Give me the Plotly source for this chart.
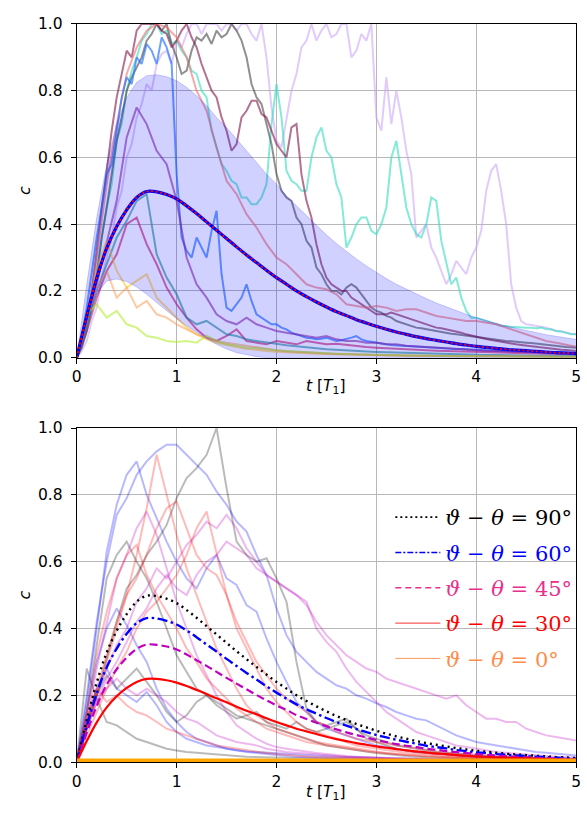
import plotly.graph_objects as go

T = [round(0.1 * i, 1) for i in range(51)]
T_FINE = [round(0.05 * i, 2) for i in range(101)]

# ---------------- top panel data ----------------
MEAN = [0.000, 0.125, 0.238, 0.328, 0.393, 0.443, 0.480, 0.498, 0.497, 0.489, 0.476,
        0.455, 0.432, 0.407, 0.382, 0.357, 0.332, 0.308, 0.285, 0.262, 0.240,
        0.220, 0.200, 0.183, 0.167, 0.152, 0.138, 0.126, 0.114, 0.104, 0.094,
        0.085, 0.077, 0.070, 0.063, 0.057, 0.052, 0.047, 0.042, 0.038, 0.034,
        0.031, 0.028, 0.025, 0.023, 0.021, 0.019, 0.017, 0.015, 0.014, 0.012]

BAND_HI = [0.000, 0.220, 0.420, 0.580, 0.700, 0.780, 0.825, 0.845, 0.848, 0.842, 0.830,
           0.810, 0.785, 0.755, 0.720, 0.690, 0.655, 0.620, 0.585, 0.550, 0.520,
           0.485, 0.455, 0.425, 0.395, 0.368, 0.342, 0.318, 0.296, 0.275, 0.255,
           0.237, 0.220, 0.205, 0.190, 0.177, 0.164, 0.152, 0.140, 0.130, 0.120,
           0.111, 0.103, 0.095, 0.088, 0.081, 0.075, 0.069, 0.064, 0.059, 0.055]

BAND_LO = [0.000, 0.110, 0.190, 0.230, 0.236, 0.228, 0.212, 0.190, 0.165, 0.140, 0.117,
           0.095, 0.075, 0.057, 0.040, 0.026, 0.015, 0.008, 0.003, 0.000, 0.000,
           0.000, 0.000, 0.000, 0.000, 0.000, 0.000, 0.000, 0.000, 0.000, 0.000,
           0.000, 0.000, 0.000, 0.000, 0.000, 0.000, 0.000, 0.000, 0.000, 0.000,
           0.000, 0.000, 0.000, 0.000, 0.000, 0.000, 0.000, 0.000, 0.000, 0.000]

# fine-grid trajectories (t step 0.05)
LAV = [0.00, 0.02, 0.05, 0.11, 0.15, 0.24, 0.30, 0.36, 0.45, 0.50, 0.60, 0.64, 0.72, 0.76, 0.82, 0.80, 0.88, 0.91, 0.92, 0.88, 0.95,
       0.93, 0.97, 1.00, 1.00, 0.97, 1.00, 1.00, 1.00, 0.98, 1.00, 1.00, 0.98, 1.00, 1.00, 0.97, 0.95, 1.00, 0.90, 0.75, 0.65,
       0.63, 0.72, 0.80, 0.85, 0.93, 0.95, 1.00, 0.95, 0.98, 1.00, 0.96, 0.97, 1.00, 1.00, 0.90, 0.92, 0.97, 0.95, 1.00, 0.72,
       0.68, 0.84, 0.70, 0.80, 0.72, 0.62, 0.55, 0.36, 0.38, 0.40, 0.33, 0.30, 0.26, 0.22, 0.25, 0.29, 0.27, 0.25, 0.30, 0.33,
       0.38, 0.50, 0.56, 0.58, 0.50, 0.40, 0.22, 0.15, 0.11, 0.10, 0.098, 0.095, 0.094, 0.09, 0.085, 0.08, 0.08, 0.075, 0.072, 0.07]

TURQ = [0.00, 0.03, 0.08, 0.16, 0.25, 0.36, 0.45, 0.52, 0.65, 0.70, 0.80, 0.86, 0.90, 0.95, 0.97, 1.00, 1.00, 0.97, 0.98, 0.94, 0.95,
        0.92, 0.90, 0.86, 0.85, 0.80, 0.78, 0.68, 0.63, 0.58, 0.56, 0.53, 0.52, 0.48, 0.48, 0.46, 0.46, 0.48, 0.52, 0.70, 0.82,
        0.72, 0.56, 0.53, 0.52, 0.50, 0.50, 0.60, 0.66, 0.69, 0.62, 0.60, 0.52, 0.48, 0.33, 0.36, 0.40, 0.42, 0.42, 0.38, 0.37,
        0.40, 0.45, 0.60, 0.65, 0.55, 0.45, 0.40, 0.37, 0.36, 0.40, 0.48, 0.47, 0.35, 0.28, 0.22, 0.24, 0.18, 0.14, 0.12, 0.12,
        0.115, 0.11, 0.105, 0.10, 0.095, 0.095, 0.092, 0.092, 0.09, 0.09, 0.09, 0.088, 0.09, 0.085, 0.085, 0.08, 0.078, 0.075, 0.07, 0.07]

GRAY = [0.00, 0.03, 0.08, 0.15, 0.25, 0.36, 0.45, 0.55, 0.65, 0.72, 0.80, 0.84, 0.87, 0.90, 0.95, 0.97, 1.00, 0.98, 1.00, 0.94, 0.90,
        0.85, 0.86, 0.92, 0.96, 0.95, 0.97, 0.94, 0.98, 0.96, 0.97, 1.00, 0.98, 0.95, 0.90, 0.82, 0.78, 0.76, 0.70, 0.64, 0.55,
        0.50, 0.48, 0.47, 0.42, 0.40, 0.35, 0.33, 0.27, 0.25, 0.22, 0.20, 0.20, 0.19, 0.21, 0.22, 0.21, 0.19, 0.17, 0.15, 0.14,
        0.135, 0.125, 0.12, 0.11, 0.105, 0.10, 0.095, 0.09, 0.088, 0.085, 0.083, 0.08, 0.078, 0.075, 0.072, 0.07, 0.068, 0.065, 0.062, 0.06,
        0.058, 0.057, 0.056, 0.054, 0.052, 0.05, 0.049, 0.047, 0.046, 0.045, 0.044, 0.042, 0.04, 0.038, 0.037, 0.035, 0.034, 0.032, 0.031, 0.03]

MAROON = [0.00, 0.04, 0.10, 0.20, 0.32, 0.45, 0.56, 0.68, 0.78, 0.85, 0.92, 0.90, 0.98, 1.00, 1.00, 1.00, 1.00, 0.98, 0.97, 0.93, 0.95,
          0.98, 1.00, 0.96, 0.93, 0.88, 0.84, 0.80, 0.78, 0.72, 0.68, 0.62, 0.64, 0.72, 0.74, 0.77, 0.77, 0.73, 0.72, 0.68, 0.64,
          0.62, 0.60, 0.69, 0.70, 0.55, 0.47, 0.42, 0.34, 0.28, 0.24, 0.22, 0.21, 0.20, 0.20, 0.18, 0.17, 0.16, 0.15, 0.14, 0.13,
          0.13, 0.13, 0.135, 0.13, 0.125, 0.12, 0.115, 0.11, 0.105, 0.10, 0.095, 0.09, 0.088, 0.085, 0.082, 0.08, 0.075, 0.07, 0.066, 0.062,
          0.059, 0.056, 0.053, 0.05, 0.047, 0.045, 0.042, 0.04, 0.038, 0.036, 0.034, 0.032, 0.03, 0.029, 0.027, 0.026, 0.024, 0.023, 0.021, 0.02]

BLUE = [0.00, 0.06, 0.15, 0.26, 0.36, 0.45, 0.55, 0.58, 0.68, 0.78, 0.84, 0.82, 0.90, 0.88, 0.94, 0.92, 0.88, 0.96, 0.93, 0.88, 0.55,
        0.36, 0.32, 0.30, 0.36, 0.33, 0.30, 0.38, 0.44, 0.25, 0.15, 0.14, 0.16, 0.18, 0.22, 0.17, 0.13, 0.12, 0.11, 0.10, 0.10,
        0.09, 0.085, 0.075, 0.07, 0.065, 0.06, 0.058, 0.055, 0.057, 0.06, 0.055, 0.05, 0.052, 0.055, 0.06, 0.065, 0.055, 0.05, 0.047, 0.045,
        0.042, 0.04, 0.038, 0.036, 0.036, 0.035, 0.034, 0.032, 0.031, 0.03, 0.03, 0.03, 0.029, 0.028, 0.027, 0.026, 0.026, 0.025, 0.024, 0.023,
        0.022, 0.022, 0.021, 0.021, 0.02, 0.02, 0.02, 0.02, 0.019, 0.019, 0.018, 0.018, 0.017, 0.017, 0.016, 0.016, 0.016, 0.016, 0.015, 0.015]

# coarse-grid trajectories (t step 0.1)
SALMON = [0.00, 0.10, 0.30, 0.52, 0.70, 0.85, 0.93, 0.98, 1.00, 0.99, 0.96,
          0.90, 0.80, 0.74, 0.63, 0.53, 0.49, 0.43, 0.39, 0.34, 0.30,
          0.28, 0.25, 0.22, 0.21, 0.205, 0.19, 0.16, 0.155, 0.15, 0.155,
          0.15, 0.14, 0.145, 0.145, 0.135, 0.125, 0.12, 0.115, 0.11, 0.11,
          0.105, 0.10, 0.09, 0.08, 0.07, 0.06, 0.05, 0.045, 0.04, 0.033]

PURPLE = [0.00, 0.10, 0.22, 0.35, 0.47, 0.66, 0.75, 0.70, 0.62, 0.58, 0.47,
          0.30, 0.22, 0.18, 0.13, 0.11, 0.10, 0.12, 0.10, 0.09, 0.08,
          0.075, 0.07, 0.065, 0.06, 0.065, 0.055, 0.05, 0.05, 0.045, 0.045,
          0.04, 0.04, 0.036, 0.034, 0.031, 0.03, 0.028, 0.026, 0.024, 0.022,
          0.021, 0.02, 0.019, 0.018, 0.017, 0.016, 0.015, 0.014, 0.013, 0.012]

CRIMSON = [0.00, 0.08, 0.18, 0.26, 0.31, 0.40, 0.42, 0.34, 0.28, 0.21, 0.16,
           0.12, 0.085, 0.06, 0.05, 0.065, 0.085, 0.05, 0.045, 0.04, 0.05,
           0.045, 0.04, 0.05, 0.045, 0.04, 0.042, 0.038, 0.035, 0.032, 0.03,
           0.028, 0.026, 0.025, 0.024, 0.022, 0.021, 0.02, 0.019, 0.018, 0.017,
           0.016, 0.015, 0.014, 0.013, 0.013, 0.012, 0.012, 0.011, 0.011, 0.01]

TEAL = [0.00, 0.09, 0.20, 0.28, 0.36, 0.41, 0.47, 0.49, 0.31, 0.24, 0.19,
        0.12, 0.10, 0.11, 0.09, 0.07, 0.065, 0.055, 0.05, 0.045, 0.04,
        0.037, 0.034, 0.03, 0.028, 0.025, 0.023, 0.021, 0.02, 0.018, 0.017,
        0.016, 0.015, 0.014, 0.013, 0.012, 0.011, 0.010, 0.010, 0.009, 0.009,
        0.008, 0.008, 0.007, 0.007, 0.006, 0.006, 0.006, 0.005, 0.005, 0.005]

GOLD = [0.00, 0.12, 0.27, 0.35, 0.26, 0.21, 0.23, 0.25, 0.18, 0.15, 0.12,
        0.09, 0.07, 0.055, 0.045, 0.038, 0.032, 0.027, 0.023, 0.02, 0.018,
        0.016, 0.014, 0.013, 0.012, 0.011, 0.010, 0.009, 0.009, 0.008, 0.008,
        0.007, 0.007, 0.006, 0.006, 0.006, 0.005, 0.005, 0.005, 0.005, 0.004,
        0.004, 0.004, 0.004, 0.004, 0.003, 0.003, 0.003, 0.003, 0.003, 0.003]

ORANGE = [0.00, 0.11, 0.21, 0.26, 0.18, 0.21, 0.15, 0.17, 0.13, 0.12, 0.10,
          0.085, 0.07, 0.06, 0.05, 0.045, 0.04, 0.035, 0.03, 0.026, 0.022,
          0.019, 0.017, 0.015, 0.013, 0.012, 0.011, 0.010, 0.009, 0.008, 0.008,
          0.007, 0.007, 0.006, 0.006, 0.005, 0.005, 0.005, 0.004, 0.004, 0.004,
          0.004, 0.003, 0.003, 0.003, 0.003, 0.003, 0.002, 0.002, 0.002, 0.002]

LIME = [0.00, 0.13, 0.16, 0.12, 0.14, 0.10, 0.09, 0.065, 0.06, 0.05, 0.047,
        0.05, 0.045, 0.066, 0.05, 0.04, 0.036, 0.03, 0.028, 0.024, 0.022,
        0.02, 0.018, 0.016, 0.015, 0.013, 0.012, 0.011, 0.010, 0.009, 0.008,
        0.008, 0.007, 0.007, 0.006, 0.006, 0.005, 0.005, 0.005, 0.004, 0.004,
        0.004, 0.004, 0.003, 0.003, 0.003, 0.003, 0.003, 0.002, 0.002, 0.002]

TOP_PATHS = [
    (T_FINE, LAV, "rgba(200,160,250,0.55)"),
    (T_FINE, TURQ, "rgba(50,220,190,0.6)"),
    (T_FINE, GRAY, "rgba(70,70,70,0.6)"),
    (T_FINE, MAROON, "rgba(130,20,70,0.6)"),
    (T, SALMON, "rgba(240,110,110,0.6)"),
    (T_FINE, BLUE, "rgba(30,110,255,0.65)"),
    (T, PURPLE, "rgba(140,40,160,0.6)"),
    (T, CRIMSON, "rgba(200,20,100,0.6)"),
    (T, TEAL, "rgba(30,140,140,0.6)"),
    (T, GOLD, "rgba(255,195,30,0.55)"),
    (T, ORANGE, "rgba(255,150,70,0.5)"),
    (T, LIME, "rgba(173,235,30,0.55)"),
]

# ---------------- bottom panel data ----------------
C90 = MEAN
C60 = [0.000, 0.108, 0.206, 0.284, 0.340, 0.384, 0.416, 0.431, 0.430, 0.423, 0.412,
       0.394, 0.374, 0.352, 0.331, 0.309, 0.288, 0.267, 0.247, 0.227, 0.208,
       0.190, 0.173, 0.158, 0.145, 0.132, 0.120, 0.109, 0.099, 0.090, 0.081,
       0.074, 0.067, 0.061, 0.055, 0.049, 0.045, 0.041, 0.036, 0.033, 0.029,
       0.027, 0.024, 0.022, 0.020, 0.018, 0.016, 0.015, 0.013, 0.012, 0.010]
C45 = [0.000, 0.088, 0.168, 0.232, 0.278, 0.313, 0.339, 0.352, 0.351, 0.346, 0.337,
       0.322, 0.305, 0.288, 0.270, 0.252, 0.235, 0.218, 0.201, 0.185, 0.170,
       0.156, 0.141, 0.129, 0.118, 0.107, 0.098, 0.089, 0.081, 0.074, 0.066,
       0.060, 0.054, 0.049, 0.045, 0.040, 0.037, 0.033, 0.030, 0.027, 0.024,
       0.022, 0.020, 0.018, 0.016, 0.015, 0.013, 0.012, 0.011, 0.010, 0.008]
C30 = [0.000, 0.063, 0.119, 0.164, 0.197, 0.222, 0.240, 0.249, 0.249, 0.245, 0.238,
       0.228, 0.216, 0.204, 0.191, 0.179, 0.166, 0.154, 0.143, 0.131, 0.120,
       0.110, 0.100, 0.092, 0.084, 0.076, 0.069, 0.063, 0.057, 0.052, 0.047,
       0.043, 0.039, 0.035, 0.032, 0.029, 0.026, 0.024, 0.021, 0.019, 0.017,
       0.016, 0.014, 0.013, 0.012, 0.011, 0.010, 0.009, 0.008, 0.007, 0.006]
C0 = [0.0] * 51

B_BLUE1 = [0.00, 0.20, 0.42, 0.60, 0.74, 0.79, 0.86, 0.90, 0.93, 0.95, 0.95,
           0.92, 0.89, 0.86, 0.81, 0.77, 0.72, 0.69, 0.62, 0.56, 0.46,
           0.38, 0.33, 0.30, 0.27, 0.25, 0.23, 0.22, 0.20, 0.19, 0.176,
           0.165, 0.15, 0.14, 0.13, 0.125, 0.11, 0.095, 0.08, 0.07, 0.06,
           0.055, 0.05, 0.045, 0.04, 0.035, 0.03, 0.028, 0.025, 0.022, 0.02]
B_BLUE2 = [0.00, 0.18, 0.40, 0.63, 0.77, 0.86, 0.90, 0.80, 0.73, 0.66, 0.60,
           0.55, 0.52, 0.58, 0.62, 0.55, 0.53, 0.47, 0.45, 0.37, 0.30,
           0.24, 0.18, 0.15, 0.12, 0.10, 0.09, 0.08, 0.07, 0.06, 0.05,
           0.045, 0.04, 0.035, 0.03, 0.028, 0.025, 0.022, 0.02, 0.018, 0.016,
           0.015, 0.014, 0.013, 0.012, 0.011, 0.010, 0.009, 0.009, 0.008, 0.008]
B_BLUE3 = [0.00, 0.15, 0.30, 0.40, 0.46, 0.41, 0.35, 0.30, 0.22, 0.16, 0.12,
           0.09, 0.07, 0.06, 0.05, 0.04, 0.035, 0.03, 0.027, 0.024, 0.02,
           0.018, 0.016, 0.014, 0.013, 0.012, 0.011, 0.010, 0.009, 0.008, 0.008,
           0.007, 0.007, 0.006, 0.006, 0.005, 0.005, 0.005, 0.004, 0.004, 0.004,
           0.004, 0.003, 0.003, 0.003, 0.003, 0.003, 0.002, 0.002, 0.002, 0.002]
B_BLUE4 = [0.00, 0.12, 0.22, 0.28, 0.22, 0.20, 0.18, 0.21, 0.17, 0.12, 0.09,
           0.07, 0.06, 0.05, 0.045, 0.04, 0.036, 0.032, 0.03, 0.028, 0.026,
           0.024, 0.022, 0.02, 0.018, 0.017, 0.016, 0.015, 0.014, 0.013, 0.012,
           0.011, 0.010, 0.010, 0.009, 0.009, 0.008, 0.008, 0.007, 0.007, 0.006,
           0.006, 0.006, 0.005, 0.005, 0.005, 0.004, 0.004, 0.004, 0.004, 0.003]
B_GRAY1 = [0.00, 0.10, 0.20, 0.31, 0.42, 0.52, 0.56, 0.62, 0.66, 0.71, 0.79,
           0.85, 0.88, 0.92, 1.00, 0.82, 0.66, 0.62, 0.60, 0.61, 0.55,
           0.48, 0.30, 0.16, 0.12, 0.11, 0.12, 0.13, 0.10, 0.08, 0.07,
           0.06, 0.05, 0.045, 0.04, 0.035, 0.03, 0.028, 0.025, 0.022, 0.02,
           0.018, 0.016, 0.015, 0.014, 0.013, 0.012, 0.011, 0.010, 0.010, 0.009]
B_GRAY2 = [0.00, 0.15, 0.35, 0.55, 0.62, 0.66, 0.60, 0.55, 0.48, 0.40, 0.32,
           0.27, 0.22, 0.20, 0.18, 0.16, 0.14, 0.13, 0.12, 0.11, 0.10,
           0.09, 0.08, 0.07, 0.06, 0.05, 0.045, 0.04, 0.035, 0.03, 0.027,
           0.024, 0.020, 0.018, 0.016, 0.014, 0.013, 0.012, 0.011, 0.010, 0.009,
           0.008, 0.008, 0.007, 0.007, 0.006, 0.006, 0.005, 0.005, 0.005, 0.004]
B_GRAY3 = [0.00, 0.28, 0.19, 0.12, 0.11, 0.09, 0.07, 0.06, 0.05, 0.04, 0.035,
           0.03, 0.028, 0.025, 0.022, 0.02, 0.018, 0.016, 0.015, 0.014, 0.013,
           0.012, 0.011, 0.010, 0.009, 0.009, 0.008, 0.008, 0.007, 0.007, 0.006,
           0.006, 0.006, 0.005, 0.005, 0.005, 0.004, 0.004, 0.004, 0.004, 0.003,
           0.003, 0.003, 0.003, 0.003, 0.003, 0.002, 0.002, 0.002, 0.002, 0.002]
B_GRAY4 = [0.00, 0.12, 0.20, 0.26, 0.22, 0.25, 0.28, 0.24, 0.20, 0.15, 0.12,
           0.14, 0.18, 0.20, 0.17, 0.15, 0.13, 0.14, 0.15, 0.12, 0.11,
           0.10, 0.12, 0.10, 0.09, 0.10, 0.11, 0.12, 0.10, 0.07, 0.06,
           0.05, 0.04, 0.035, 0.03, 0.028, 0.025, 0.022, 0.02, 0.018, 0.016,
           0.015, 0.014, 0.013, 0.012, 0.011, 0.010, 0.009, 0.009, 0.008, 0.008]
B_MAG1 = [0.00, 0.10, 0.18, 0.25, 0.30, 0.36, 0.42, 0.46, 0.52, 0.56, 0.52,
          0.50, 0.56, 0.60, 0.62, 0.66, 0.64, 0.62, 0.58, 0.56, 0.54,
          0.52, 0.50, 0.47, 0.42, 0.38, 0.35, 0.32, 0.30, 0.28, 0.27,
          0.25, 0.24, 0.23, 0.22, 0.21, 0.20, 0.19, 0.20, 0.17, 0.15,
          0.13, 0.13, 0.12, 0.12, 0.10, 0.09, 0.08, 0.075, 0.07, 0.065]
B_MAG2 = [0.00, 0.10, 0.20, 0.28, 0.35, 0.40, 0.48, 0.52, 0.58, 0.55, 0.60,
          0.65, 0.68, 0.72, 0.70, 0.74, 0.70, 0.64, 0.60, 0.56, 0.54,
          0.52, 0.50, 0.48, 0.40, 0.36, 0.33, 0.28, 0.24, 0.21, 0.18,
          0.15, 0.13, 0.11, 0.09, 0.08, 0.07, 0.06, 0.05, 0.045, 0.04,
          0.035, 0.03, 0.028, 0.025, 0.022, 0.02, 0.018, 0.016, 0.015, 0.014]
B_MAG3 = [0.00, 0.12, 0.28, 0.42, 0.55, 0.62, 0.70, 0.75, 0.68, 0.58, 0.48,
          0.40, 0.32, 0.26, 0.20, 0.15, 0.11, 0.09, 0.07, 0.055, 0.045,
          0.04, 0.035, 0.03, 0.027, 0.024, 0.02, 0.018, 0.016, 0.014, 0.012,
          0.011, 0.010, 0.009, 0.008, 0.008, 0.007, 0.007, 0.006, 0.006, 0.005,
          0.005, 0.005, 0.004, 0.004, 0.004, 0.004, 0.003, 0.003, 0.003, 0.003]
B_MAG4 = [0.00, 0.10, 0.18, 0.22, 0.25, 0.22, 0.20, 0.22, 0.20, 0.18, 0.15,
          0.13, 0.12, 0.10, 0.08, 0.07, 0.06, 0.055, 0.05, 0.04, 0.035,
          0.03, 0.028, 0.025, 0.022, 0.02, 0.018, 0.016, 0.015, 0.014, 0.013,
          0.012, 0.011, 0.010, 0.009, 0.009, 0.008, 0.008, 0.007, 0.007, 0.006,
          0.006, 0.005, 0.005, 0.005, 0.004, 0.004, 0.004, 0.004, 0.003, 0.003]
B_RED1 = [0.00, 0.12, 0.22, 0.32, 0.42, 0.50, 0.62, 0.76, 0.92, 0.80, 0.68,
          0.58, 0.50, 0.42, 0.34, 0.28, 0.22, 0.17, 0.14, 0.12, 0.10,
          0.09, 0.08, 0.07, 0.06, 0.055, 0.05, 0.045, 0.04, 0.035, 0.03,
          0.027, 0.024, 0.022, 0.02, 0.018, 0.016, 0.015, 0.014, 0.012, 0.011,
          0.010, 0.009, 0.008, 0.008, 0.007, 0.007, 0.006, 0.006, 0.005, 0.005]
B_RED2 = [0.00, 0.10, 0.20, 0.30, 0.40, 0.50, 0.55, 0.62, 0.70, 0.76, 0.78,
          0.70, 0.62, 0.58, 0.56, 0.50, 0.40, 0.34, 0.28, 0.22, 0.18,
          0.15, 0.12, 0.10, 0.09, 0.08, 0.07, 0.06, 0.05, 0.045, 0.04,
          0.036, 0.032, 0.029, 0.026, 0.023, 0.021, 0.019, 0.017, 0.015, 0.014,
          0.013, 0.012, 0.011, 0.010, 0.009, 0.008, 0.008, 0.007, 0.007, 0.006]
B_RED3 = [0.00, 0.15, 0.32, 0.45, 0.55, 0.62, 0.65, 0.56, 0.50, 0.45, 0.40,
          0.34, 0.30, 0.25, 0.22, 0.19, 0.16, 0.14, 0.12, 0.10, 0.09,
          0.08, 0.07, 0.06, 0.055, 0.05, 0.045, 0.04, 0.036, 0.032, 0.029,
          0.026, 0.023, 0.021, 0.019, 0.017, 0.015, 0.014, 0.013, 0.012, 0.011,
          0.010, 0.009, 0.008, 0.008, 0.007, 0.007, 0.006, 0.006, 0.005, 0.005]
B_RED4 = [0.00, 0.08, 0.15, 0.22, 0.28, 0.33, 0.40, 0.45, 0.48, 0.52, 0.56,
          0.62, 0.70, 0.75, 0.62, 0.50, 0.42, 0.36, 0.30, 0.26, 0.22,
          0.19, 0.17, 0.15, 0.12, 0.11, 0.09, 0.08, 0.07, 0.065, 0.06,
          0.055, 0.05, 0.045, 0.04, 0.036, 0.032, 0.029, 0.026, 0.023, 0.021,
          0.019, 0.017, 0.015, 0.014, 0.013, 0.012, 0.011, 0.010, 0.009, 0.008]
B_RED5 = [0.00, 0.14, 0.22, 0.18, 0.20, 0.17, 0.15, 0.14, 0.12, 0.10, 0.09,
          0.08, 0.07, 0.06, 0.05, 0.045, 0.04, 0.035, 0.03, 0.027, 0.024,
          0.021, 0.019, 0.017, 0.015, 0.014, 0.013, 0.012, 0.011, 0.010, 0.009,
          0.008, 0.008, 0.007, 0.007, 0.006, 0.006, 0.005, 0.005, 0.005, 0.004,
          0.004, 0.004, 0.004, 0.003, 0.003, 0.003, 0.003, 0.003, 0.002, 0.002]

BOT_PATHS = [
    (B_GRAY1, "rgba(0,0,0,0.27)"), (B_GRAY2, "rgba(0,0,0,0.27)"),
    (B_GRAY3, "rgba(0,0,0,0.27)"), (B_GRAY4, "rgba(0,0,0,0.27)"),
    (B_BLUE1, "rgba(0,0,255,0.28)"), (B_BLUE2, "rgba(0,0,255,0.28)"),
    (B_BLUE3, "rgba(0,0,255,0.28)"), (B_BLUE4, "rgba(0,0,255,0.28)"),
    (B_MAG1, "rgba(191,0,191,0.28)"), (B_MAG2, "rgba(191,0,191,0.28)"),
    (B_MAG3, "rgba(191,0,191,0.28)"), (B_MAG4, "rgba(191,0,191,0.28)"),
    (B_RED1, "rgba(255,0,0,0.27)"), (B_RED2, "rgba(255,0,0,0.27)"),
    (B_RED3, "rgba(255,0,0,0.27)"), (B_RED4, "rgba(255,0,0,0.27)"),
    (B_RED5, "rgba(255,0,0,0.27)"),
]

LEGEND_LABELS = ["90°", "60°", "45°", "30°", "0°"]
LEGEND_TEXT_COLORS = ["#000000", "#0000ff", "#e8308c", "#ff0000", "#ff8c4a"]

fig = go.Figure()

# top panel
for xs, ys, col in TOP_PATHS:
    fig.add_trace(go.Scatter(x=xs, y=ys, mode="lines", line=dict(color=col, width=2),
                             showlegend=False, hoverinfo="skip", xaxis="x", yaxis="y"))
fig.add_trace(go.Scatter(x=T, y=BAND_LO, mode="lines",
                         line=dict(color="rgba(0,0,255,0.18)", width=1),
                         showlegend=False, hoverinfo="skip", xaxis="x", yaxis="y"))
fig.add_trace(go.Scatter(x=T, y=BAND_HI, mode="lines", fill="tonexty",
                         fillcolor="rgba(0,0,255,0.18)",
                         line=dict(color="rgba(0,0,255,0.18)", width=1),
                         showlegend=False, hoverinfo="skip", xaxis="x", yaxis="y"))
fig.add_trace(go.Scatter(x=T, y=MEAN, mode="lines", line=dict(color="#0000ff", width=3.2, shape="spline"),
                         showlegend=False, hoverinfo="skip", xaxis="x", yaxis="y"))
fig.add_trace(go.Scatter(x=T, y=MEAN, mode="lines",
                         line=dict(color="#ff0000", width=1.8, dash="2px,2.5px", shape="spline"),
                         showlegend=False, hoverinfo="skip", xaxis="x", yaxis="y"))

# bottom panel
for ys, col in BOT_PATHS:
    fig.add_trace(go.Scatter(x=T, y=ys, mode="lines", line=dict(color=col, width=2),
                             showlegend=False, hoverinfo="skip", xaxis="x2", yaxis="y2"))

CURVES = [
    (C90, dict(color="#000000", width=2.4, dash="2px,4px")),
    (C60, dict(color="#0000ff", width=2.4, dash="10px,3.5px,2.5px,3.5px")),
    (C45, dict(color="#bf00bf", width=2.2, dash="8px,4px")),
    (C30, dict(color="#ff0000", width=2.2)),
    (C0, dict(color="#ffa500", width=7)),
]
for ys, ln in CURVES:
    ln = dict(ln)
    ln["shape"] = "spline"
    fig.add_trace(go.Scatter(x=T, y=ys, mode="lines", line=ln, showlegend=False,
                             hoverinfo="skip", xaxis="x2", yaxis="y2"))

LEG_LINES = [
    dict(color="#000000", width=1.8, dash="2px,3px"),
    dict(color="#0000ff", width=1.5, dash="6px,2px,2px,2px"),
    dict(color="#e8308c", width=1.5, dash="6px,4px"),
    dict(color="#ff3030", width=1.0),
    dict(color="#ff9a60", width=1.0),
]
for i, (lab, tc, ln) in enumerate(zip(LEGEND_LABELS, LEGEND_TEXT_COLORS, LEG_LINES)):
    name = f"<span style='color:{tc}'><i>ϑ</i> − <i>θ</i> = {lab}</span>"
    fig.add_trace(go.Scatter(x=[None], y=[None], mode="lines", line=ln, name=name,
                             legendgroup=f"g{i}", showlegend=True, xaxis="x2", yaxis="y2"))

W, H = 587, 821
xdom = [73 / W, 581 / W]
ytop = [1 - 356.5 / H, 1 - 15.3 / H]
ybot = [1 - 770 / H, 1 - 428.4 / H]

tickfont = dict(family="DejaVu Sans", size=15.5, color="black")
axcommon = dict(showline=True, linecolor="black", linewidth=1.1, mirror=True,
                ticks="outside", ticklen=5, tickwidth=1.1, tickcolor="black",
                showgrid=True, gridcolor="#b8b8b8", gridwidth=1.1, zeroline=False,
                tickfont=tickfont)

fig.update_layout(
    width=W, height=H,
    margin=dict(l=0, r=0, t=0, b=0),
    paper_bgcolor="white", plot_bgcolor="white",
    xaxis=dict(domain=xdom, range=[0, 5], dtick=1, anchor="y", **axcommon),
    yaxis=dict(domain=ytop, range=[0, 1], dtick=0.2, tickformat=".1f", anchor="x",
               ticklabelstandoff=5, **axcommon),
    xaxis2=dict(domain=xdom, range=[0, 5], dtick=1, anchor="y2", **axcommon),
    yaxis2=dict(domain=ybot, range=[0, 1], dtick=0.2, tickformat=".1f", anchor="x2",
                ticklabelstandoff=5, **axcommon),
    legend=dict(x=392 / W, y=1 - 499 / H, xanchor="left", yanchor="top",
                traceorder="grouped", tracegroupgap=5,
                bgcolor="rgba(0,0,0,0)", borderwidth=0, itemwidth=45,
                font=dict(family="DejaVu Serif", size=21, color="black")),
    annotations=[
        dict(text="<i>c</i>", x=20 / W, y=1 - 185.5 / H, xref="paper", yref="paper",
             xanchor="center", yanchor="middle",
             textangle=-90, showarrow=False, font=dict(family="DejaVu Sans", size=16, color="black")),
        dict(text="<i>c</i>", x=20 / W, y=1 - 599 / H, xref="paper", yref="paper",
             xanchor="center", yanchor="middle",
             textangle=-90, showarrow=False, font=dict(family="DejaVu Sans", size=16, color="black")),
        dict(text="<i>t</i> [<i>T</i><sub>1</sub>]", x=327 / W, y=1 - 386 / H, xref="paper", yref="paper",
             xanchor="center", yanchor="middle",
             showarrow=False, font=dict(family="DejaVu Sans", size=15.5, color="black")),
        dict(text="<i>t</i> [<i>T</i><sub>1</sub>]", x=327 / W, y=1 - 802 / H, xref="paper", yref="paper",
             xanchor="center", yanchor="middle",
             showarrow=False, font=dict(family="DejaVu Sans", size=15.5, color="black")),
    ],
)

fig.write_html("out.html")
